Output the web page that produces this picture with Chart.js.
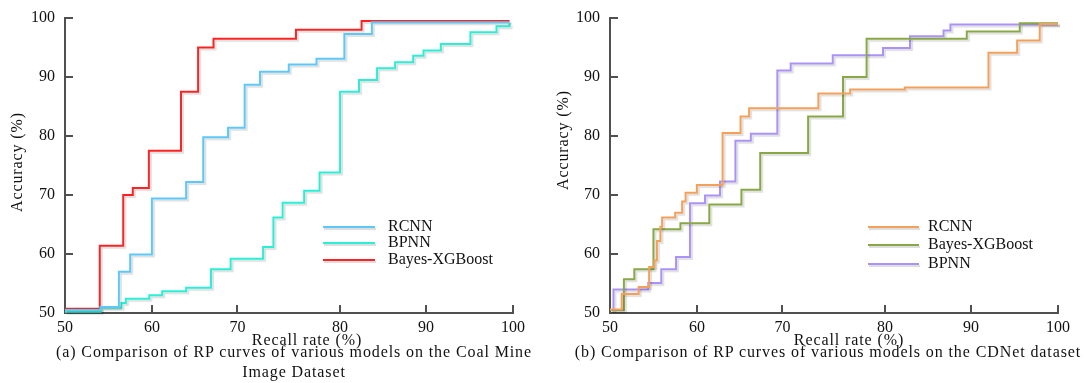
<!DOCTYPE html>
<html>
<head>
<meta charset="utf-8">
<script src="https://cdn.jsdelivr.net/npm/chart.js@4.4.1/dist/chart.umd.min.js"></script>
<style>
  html, body { margin: 0; padding: 0; background: #fff; }
  body { width: 1087px; height: 383px; position: relative; overflow: hidden; }
  .panel { position: absolute; top: 0; height: 383px; }
  #coalPanel { left: 0; width: 543px; }
  #cdnetPanel { left: 543px; width: 544px; }
  .caption {
    position: absolute; top: 342px;
    font-family: 'Liberation Serif', 'Times New Roman', serif;
    font-size: 16px; line-height: 20px; letter-spacing: 0.9px;
    color: #111; text-align: center; white-space: nowrap;
  }
</style>
</head>
<body>
<div class="panel" id="coalPanel"><canvas id="coalChart"></canvas></div>
<div class="panel" id="cdnetPanel"><canvas id="cdnetChart"></canvas></div>
<div class="caption" style="left:44px;width:500px">(a) Comparison of RP curves of various models on the Coal Mine<br>Image Dataset</div>
<div class="caption" style="left:558px;width:540px">(b) Comparison of RP curves of various models on the CDNet dataset</div>

<script>
// ---- data (recall %, accuracy %), one point per step ----
const axisTicks = [50, 60, 70, 80, 90, 100]

// (a) Coal Mine Image Dataset
const coalRcnnRecall = [50, 54.1, 56.2, 57.5, 60.0, 64.0, 66.0, 68.9, 70.7, 72.2, 75.0, 77.7, 80.5, 83.7, 99.6]
const coalRcnnAcc    = [50.5, 51.0, 57.0, 59.9, 69.4, 72.2, 79.8, 81.4, 88.7, 90.9, 92.1, 93.1, 97.3, 99.3, 99.3]

const coalBpnnRecall = [50, 54.1, 56.5, 57.0, 59.7, 61.2, 64.0, 66.9, 69.2, 72.5, 73.5, 74.4, 76.5, 78.0, 80.0, 82.2, 84.3, 86.4, 88.5, 89.7, 91.7, 95.1, 98.1, 99.6]
const coalBpnnAcc    = [50.2, 50.9, 51.7, 52.4, 53.0, 53.7, 54.3, 57.4, 59.2, 61.2, 66.2, 68.7, 70.7, 73.8, 87.5, 89.5, 91.5, 92.5, 93.6, 94.5, 95.6, 97.6, 98.6, 99.1]

const coalXgbRecall  = [50, 54.0, 56.7, 57.8, 59.65, 63.4, 65.4, 67.2, 75.7, 82.5, 99.6]
const coalXgbAcc     = [50.7, 61.4, 70.0, 71.2, 77.5, 87.5, 95.0, 96.5, 98.0, 99.5, 99.5]

// (b) CDNet dataset
const cdRcnnRecall = [50, 51.35, 53.3, 54.5, 55.1, 55.4, 55.8, 56.0, 57.5, 58.3, 58.7, 60.0, 63.0, 65.1, 66.1, 73.5, 76.6, 82.3, 92.0, 95.3, 97.9, 100]
const cdRcnnAcc    = [50.6, 53.2, 54.4, 57.8, 58.9, 62.2, 64.6, 66.2, 67.0, 68.9, 70.4, 71.7, 80.5, 83.3, 84.7, 87.2, 87.9, 88.2, 94.1, 96.2, 99.0, 99.0]

const cdXgbRecall  = [50, 51.6, 52.8, 55.0, 58.1, 61.45, 65.2, 67.4, 72.5, 75.9, 78.2, 89.5, 95.6, 100]
const cdXgbAcc     = [50.5, 55.7, 57.4, 64.2, 65.2, 68.4, 70.9, 77.1, 83.3, 90.0, 96.5, 97.7, 99.1, 99.1]

const cdBpnnRecall = [50, 50.4, 54.4, 55.9, 57.6, 59.2, 60.95, 62.7, 64.5, 66.3, 69.4, 70.8, 74.9, 79.8, 82.9, 86.8, 87.6, 100]
const cdBpnnAcc    = [50.5, 54.0, 55.1, 57.4, 59.5, 68.6, 69.9, 72.3, 79.2, 80.4, 91.1, 92.3, 93.7, 94.9, 96.9, 97.9, 98.9, 98.9]


const serif = "'Liberation Serif', 'Times New Roman', serif"
const axisGrey = '#505050'
const textColor = '#111'

// the figure's recall axis is not evenly spaced: the 70-80 gap is wider.
// this scale keeps the printed tick positions (fraction of axis length per decade)
const decadeStops = [0, 0.194, 0.385, 0.614, 0.806, 1]

class BentScale extends Chart.LinearScale {
    static id = 'bent'
    static defaults = Chart.LinearScale.defaults

    toDecimal(v) {
        const n = decadeStops.length - 1
        const t = (v - this.min) / (this.max - this.min) * n
        const i = Math.max(0, Math.min(n - 1, Math.floor(t)))
        return decadeStops[i] + (t - i) * (decadeStops[i + 1] - decadeStops[i])
    }
    getPixelForValue(v) {
        if (v === null || v === undefined) return NaN
        return this.getPixelForDecimal(this.toDecimal(v))
    }
    getValueForPixel(p) {
        const d = this.getDecimalForPixel(p)
        const n = decadeStops.length - 1
        let i = 0
        while (i < n - 1 && d > decadeStops[i + 1]) i++
        const t = i + (d - decadeStops[i]) / (decadeStops[i + 1] - decadeStops[i])
        return this.min + t / n * (this.max - this.min)
    }
}
Chart.register(BentScale)

const toPoints = (xs, ys) => xs.map((x, i) => ({x: x, y: ys[i]}))

const lineShadow = {
    id: 'lineShadow',
    beforeDatasetsDraw(chart) {
        const ctx = chart.ctx
        ctx.save()
        ctx.shadowColor = 'rgba(0,0,0,0.13)'
        ctx.shadowOffsetX = 2
        ctx.shadowOffsetY = 2
        ctx.shadowBlur = 1
    },
    afterDatasetsDraw(chart) {
        chart.ctx.restore()
    }
}

// axis titles + legend, placed where the figure has them
const figureText = {
    id: 'figureText',
    afterDraw(chart, args, opts) {
        const ctx = chart.ctx
        ctx.save()
        ctx.font = '16px ' + serif
        ctx.fillStyle = textColor
        ctx.textBaseline = 'middle'
        ctx.textAlign = 'center'
        ctx.letterSpacing = '0.9px'
        ctx.fillText(opts.xTitle, opts.xTitleAt[0], opts.xTitleAt[1])
        ctx.save()
        ctx.translate(opts.yTitleAt[0], opts.yTitleAt[1])
        ctx.rotate(-Math.PI / 2)
        ctx.fillText(opts.yTitle, 0, 0)
        ctx.restore()

        ctx.letterSpacing = '0px'
        ctx.textAlign = 'left'
        chart.data.datasets.forEach((ds, i) => {
            const y = opts.legendY[i]
            ctx.save()
            ctx.shadowColor = 'rgba(0,0,0,0.13)'
            ctx.shadowOffsetX = 1
            ctx.shadowOffsetY = 2
            ctx.strokeStyle = ds.borderColor
            ctx.lineWidth = 2
            ctx.beginPath()
            ctx.moveTo(opts.legendX[0], y)
            ctx.lineTo(opts.legendX[1], y)
            ctx.stroke()
            ctx.restore()
            ctx.fillText(ds.label, opts.legendX[2], y)
        })
        ctx.restore()
    }
}

function makeAxes(yWidth) {
    const tickFont = {family: serif, size: 16}
    const grid = {drawOnChartArea: false, tickLength: -8, color: axisGrey, lineWidth: 2}
    const border = {color: axisGrey, width: 2}
    const noEdgePadding = s => { s.paddingTop = 0; s.paddingBottom = 0; s.paddingLeft = 0; s.paddingRight = 0 }
    return {
        x: {
            type: 'bent', min: axisTicks[0], max: axisTicks[axisTicks.length - 1],
            afterBuildTicks: s => { s.ticks = axisTicks.map(v => ({value: v})) },
            ticks: {padding: 13, color: textColor, font: tickFont, maxRotation: 0, autoSkip: false},
            grid: grid, border: border,
            afterFit: s => { s.height = 70; noEdgePadding(s) },
        },
        y: {
            type: 'linear', min: axisTicks[0], max: axisTicks[axisTicks.length - 1],
            afterBuildTicks: s => { s.ticks = axisTicks.map(v => ({value: v})) },
            ticks: {padding: 18, color: textColor, font: tickFont},
            grid: grid, border: border,
            afterFit: s => { s.width = yWidth; noEdgePadding(s) },
        },
    }
}

function series(label, color, xs, ys) {
    return {
        label: label,
        data: toPoints(xs, ys),
        borderColor: color,
        borderWidth: 2,
        stepped: 'before',
        pointRadius: 0,
        fill: false,
        clip: 4,
    }
}

new Chart(document.getElementById('coalChart'), {
    type: 'line',
    data: {
        datasets: [
            series('RCNN', '#5cc8f8', coalRcnnRecall, coalRcnnAcc),
            series('BPNN', '#2aefd6', coalBpnnRecall, coalBpnnAcc),
            series('Bayes-XGBoost', '#ff2222', coalXgbRecall, coalXgbAcc),
        ]
    },
    options: {
        responsive: true,
        maintainAspectRatio: false,
        animation: false,
        layout: {padding: {top: 18, right: 30, left: 0, bottom: 0}},
        scales: makeAxes(65),
        plugins: {
            legend: {display: false},
            tooltip: {enabled: false},
            figureText: {
                xTitle: 'Recall rate (%)', xTitleAt: [307, 341],
                yTitle: 'Accuracy (%)', yTitleAt: [18, 162],
                legendX: [323, 375, 388], legendY: [227, 243, 260],
            },
        },
    },
    plugins: [lineShadow, figureText],
})

new Chart(document.getElementById('cdnetChart'), {
    type: 'line',
    data: {
        datasets: [
            series('RCNN', '#f5a05a', cdRcnnRecall, cdRcnnAcc),
            series('Bayes-XGBoost', '#88a846', cdXgbRecall, cdXgbAcc),
            series('BPNN', '#ab92f8', cdBpnnRecall, cdBpnnAcc),
        ]
    },
    options: {
        responsive: true,
        maintainAspectRatio: false,
        animation: false,
        layout: {padding: {top: 18, right: 29, left: 0, bottom: 0}},
        scales: makeAxes(67),
        plugins: {
            legend: {display: false},
            tooltip: {enabled: false},
            figureText: {
                xTitle: 'Recall rate (%)', xTitleAt: [306, 341],
                yTitle: 'Accuracy (%)', yTitleAt: [21, 140],
                legendX: [325, 376, 385], legendY: [227, 245, 264],
            },
        },
    },
    plugins: [lineShadow, figureText],
})
</script>
</body>
</html>
